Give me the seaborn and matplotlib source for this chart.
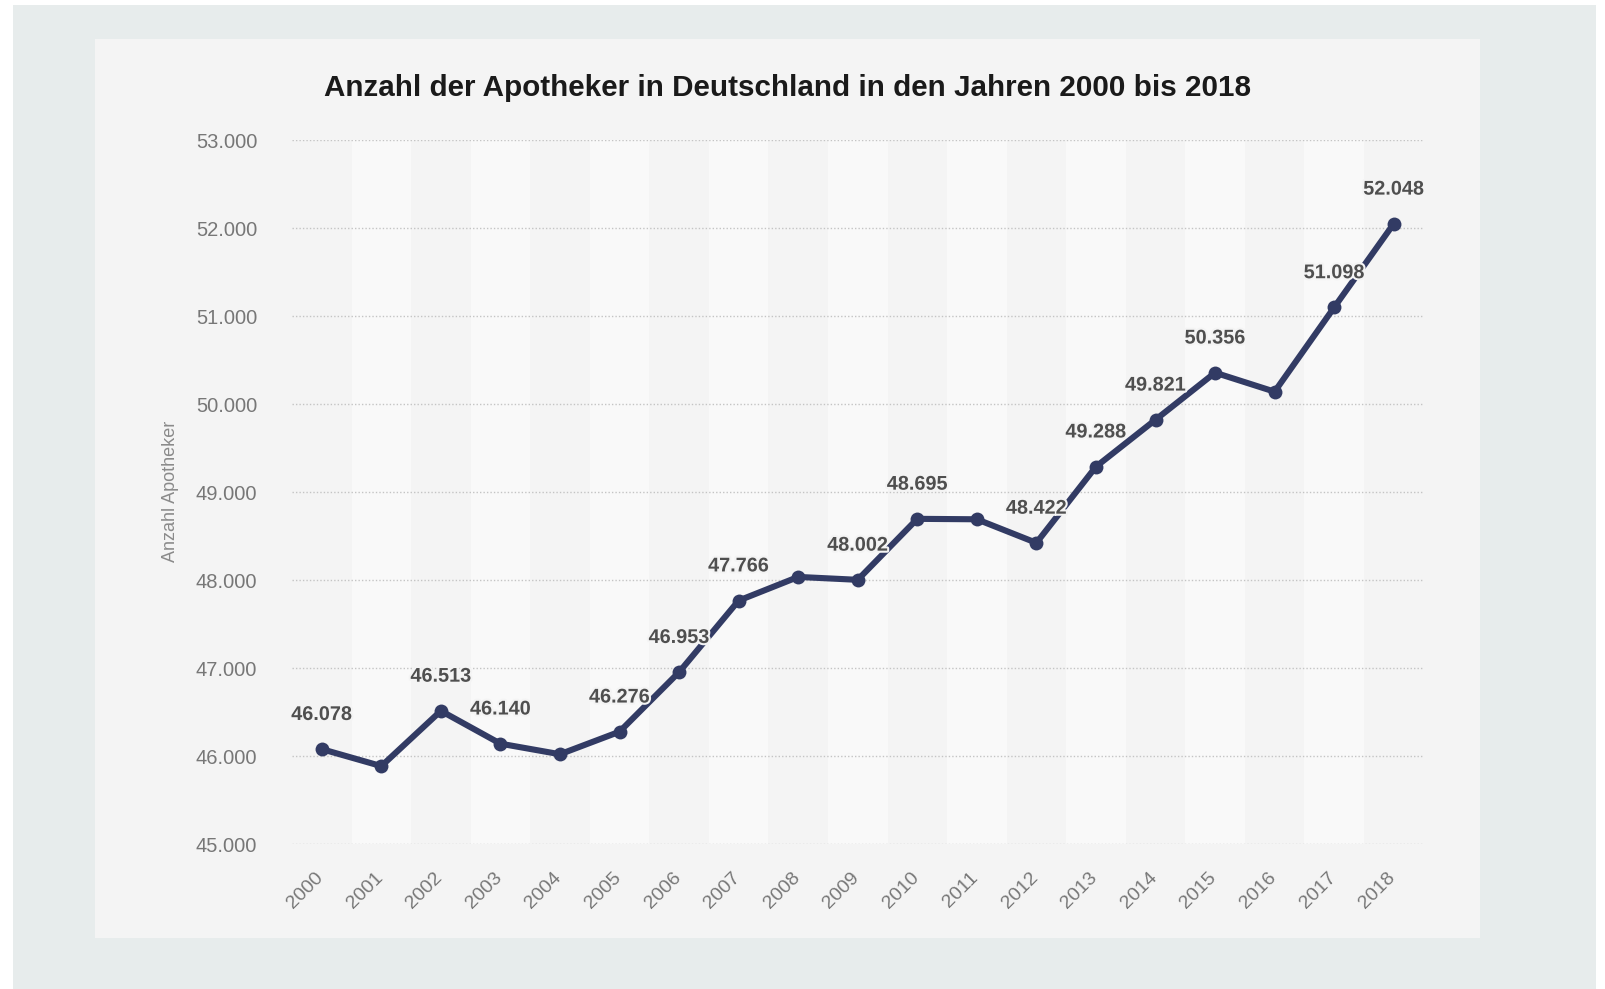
import numpy as np
import pandas as pd
import matplotlib
matplotlib.use("Agg")
import matplotlib.pyplot as plt
import matplotlib.patheffects as pe
import matplotlib.transforms as mtransforms
from matplotlib.patches import Rectangle
from matplotlib.ticker import FuncFormatter
import seaborn as sns

# Daten
years = list(range(2000, 2019))
pharmacists = [46078, 45885, 46513, 46140, 46020, 46276, 46953, 47766, 48035, 48002,
               48695, 48690, 48422, 49288, 49821, 50356, 50140, 51098, 52048]
show_label = [True, False, True, True, False, True, True, True, False, True,
              True, False, True, True, True, True, False, True, True]
y_ticks = [45000, 46000, 47000, 48000, 49000, 50000, 51000, 52000, 53000]

title = "Anzahl der Apotheker in Deutschland in den Jahren 2000 bis 2018"
y_label = "Anzahl Apotheker"

df = pd.DataFrame({"Jahr": years, "Apotheker": pharmacists})


def de_format(v, pos=None):
    return f"{v:,.0f}".replace(",", ".")


sns.set_style("white")
plt.rcParams["font.family"] = ["Liberation Sans", "DejaVu Sans"]

line_color = "#323b64"
panel_color = "#f4f4f4"

fig = plt.figure(figsize=(16.06, 9.89), dpi=100)
fig.patch.set_facecolor("white")
W, H = 1606, 989
# grauer Hintergrund und helles Panel
fig.patches.append(Rectangle((13 / W, 0), (1596 - 13) / W, (989 - 5) / H,
                             transform=fig.transFigure, facecolor="#e7ecec",
                             edgecolor="none", zorder=-2))
fig.patches.append(Rectangle((95 / W, 1 - 938 / H), (1480 - 95) / W, (938 - 39) / H,
                             transform=fig.transFigure, facecolor=panel_color,
                             edgecolor="none", zorder=-1))

ax = fig.add_axes([292 / W, 1 - 844 / H, 1131.5 / W, 704 / H])
ax.set_facecolor("none")

# abwechselnde Spalten
for i, yr in enumerate(years):
    if i % 2 == 1:
        ax.axvspan(yr - 0.5, yr + 0.5, color="#f9f9f9", zorder=0, lw=0)

ax.set_ylim(45000, 53000)
ax.set_xlim(years[0] - 0.5, years[-1] + 0.5)
ax.set_yticks(y_ticks)
ax.yaxis.set_major_formatter(FuncFormatter(de_format))
ax.grid(axis="y", color="#c4c4c4", linestyle=(0, (1, 1.5)), linewidth=1.0, zorder=1)
ax.grid(axis="x", visible=False)

sns.lineplot(data=df, x="Jahr", y="Apotheker", ax=ax, color=line_color,
             linewidth=4.4, marker="o", markersize=10, markeredgewidth=0,
             zorder=3)

for yr, val, show in zip(years, pharmacists, show_label):
    if show:
        ax.annotate(de_format(val), (yr, val), xytext=(0, 21),
                    textcoords="offset points", ha="center", va="baseline",
                    fontsize=14.3, fontweight="bold", color="#4f4f4f", zorder=4,
                    path_effects=[pe.withStroke(linewidth=3, foreground=panel_color)])

ax.set_xticks(years)
ax.set_xticklabels([str(y) for y in years], rotation=45, ha="right",
                   rotation_mode="default")
ax.tick_params(axis="x", length=0, pad=18, labelsize=14, labelcolor="#777777")
ax.tick_params(axis="y", length=0, pad=25, labelsize=14.5, labelcolor="#777777")
shift = mtransforms.ScaledTranslation(5 / 100, 0, fig.dpi_scale_trans)
for lab in ax.get_xticklabels():
    lab.set_transform(lab.get_transform() + shift)
ax.set_xlabel("")
ax.set_ylabel(y_label, fontsize=13, color="#8a8a8a")
ax.yaxis.set_label_coords((179 - 292) / 1131.5, (844 - 491) / 704)
sns.despine(ax=ax, left=True, bottom=True, top=True, right=True)

fig.text(787.5 / W, 1 - 88 / H, title, ha="center", va="center",
         fontsize=21.3, fontweight="bold", color="#1a1a1a")

fig.savefig("out.png", dpi=100, facecolor=fig.get_facecolor())
